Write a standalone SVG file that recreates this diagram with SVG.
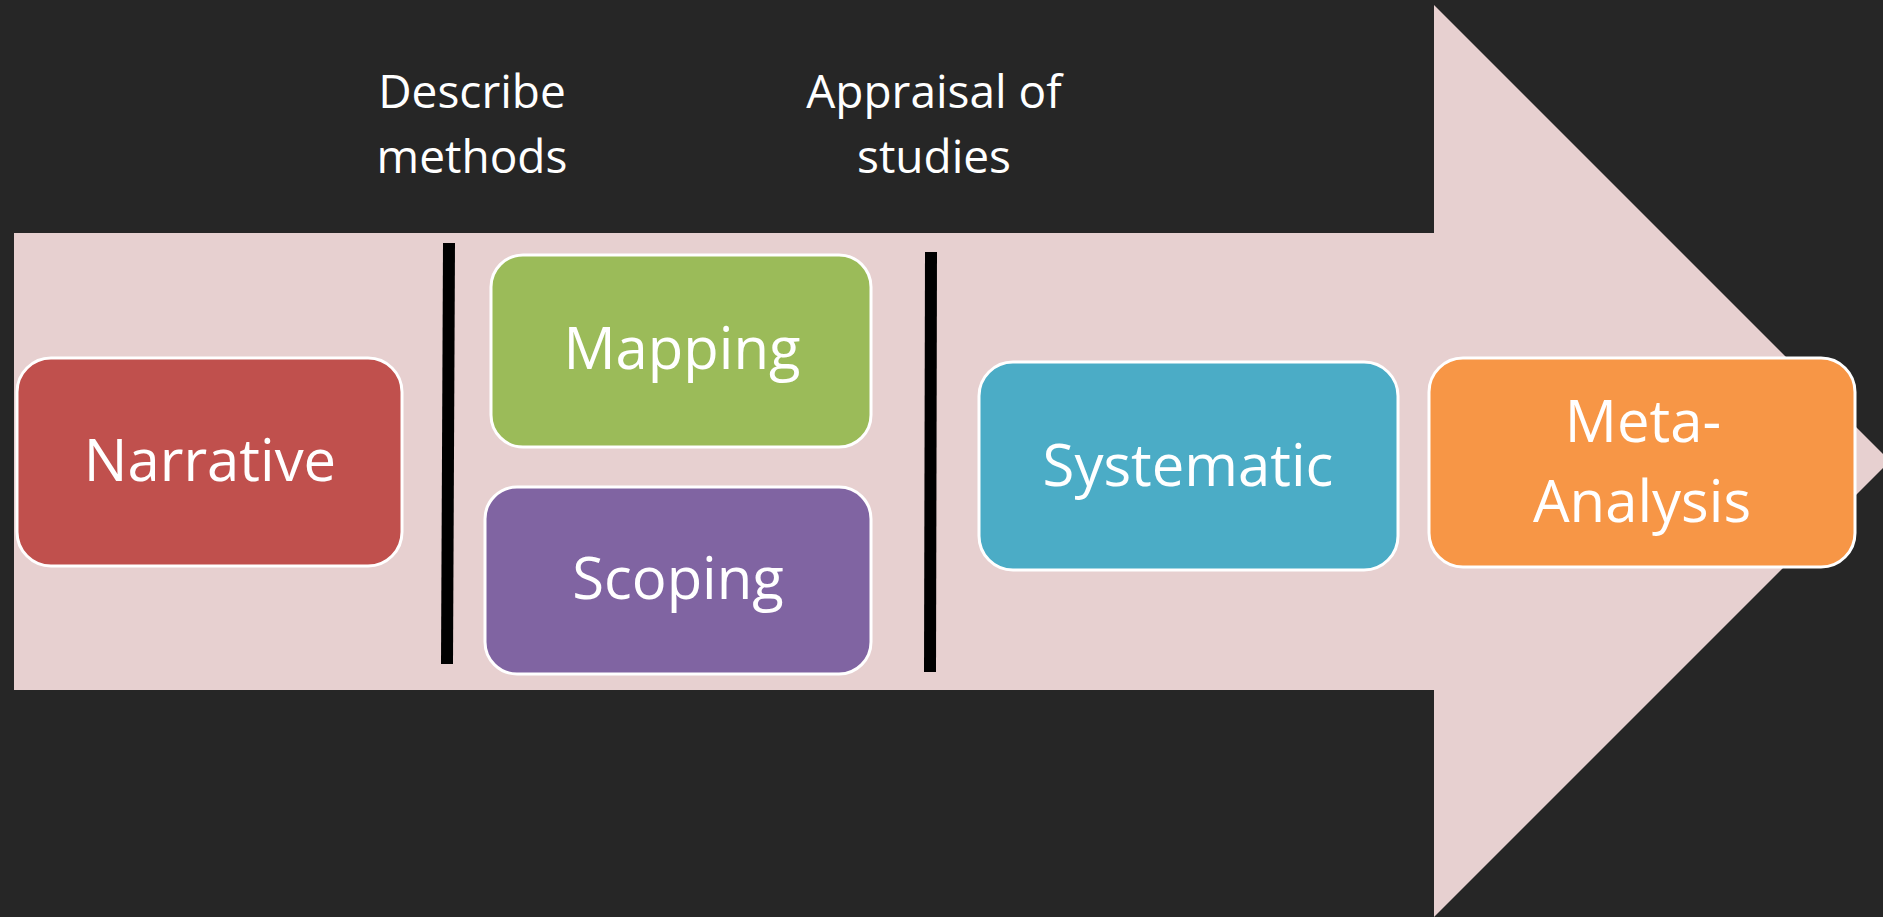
<svg xmlns="http://www.w3.org/2000/svg" width="1883" height="917" viewBox="0 0 1883 917">
<style>
.box{stroke:#ffffff;stroke-width:3}
.lbl{font-family:"Open Sans","Noto Sans",sans-serif;fill:#ffffff;text-anchor:middle}
.big{font-size:58px}
.small{font-size:46px}
.div{stroke:#000000;stroke-width:12;fill:none}
</style>
<rect x="0" y="0" width="1883" height="917" fill="#262626"/>
<polygon id="arrow" points="14,233 1434,233 1434,5 1890,461 1434,917 1434,690 14,690" fill="#e7d0d0"/>
<g id="top-labels">
<text class="lbl small" x="472" y="108">Describe</text>
<text class="lbl small" x="472" y="173">methods</text>
<text class="lbl small" x="934" y="108">Appraisal of</text>
<text class="lbl small" x="934" y="173">studies</text>
</g>
<g id="connectors">
<line class="div" x1="449" y1="243" x2="447" y2="664"/>
<line class="div" x1="931" y1="252" x2="930" y2="672"/>
</g>
<g id="narrative">
<rect class="box" x="17" y="358" width="385" height="208" rx="34" fill="#c0504d"/>
<text class="lbl big" x="210" y="481">Narrative</text>
</g>
<g id="mapping">
<rect class="box" x="491" y="255" width="380" height="192" rx="32" fill="#9bbb59"/>
<text class="lbl big" x="682" y="369">Mapping</text>
</g>
<g id="scoping">
<rect class="box" x="485" y="487" width="386" height="187" rx="32" fill="#8064a2"/>
<text class="lbl big" x="678" y="599">Scoping</text>
</g>
<g id="systematic">
<rect class="box" x="979" y="362" width="419" height="208" rx="34" fill="#4bacc6"/>
<text class="lbl big" x="1188" y="486">Systematic</text>
</g>
<g id="meta-analysis">
<rect class="box" x="1429" y="358" width="426" height="209" rx="34" fill="#f79646"/>
<text class="lbl big" x="1643" y="442">Meta-</text>
<text class="lbl big" x="1642" y="522">Analysis</text>
</g>
</svg>
